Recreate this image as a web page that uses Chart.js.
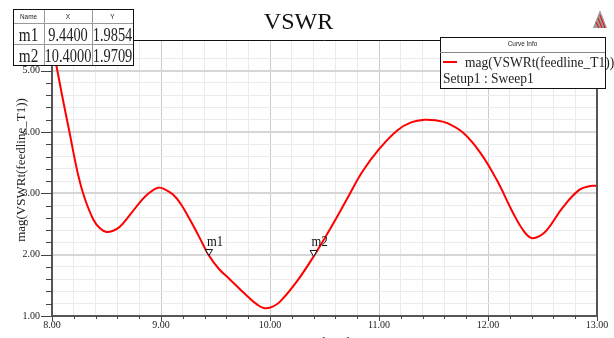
<!DOCTYPE html>
<html>
<head>
<meta charset="utf-8">
<script src="https://cdn.jsdelivr.net/npm/chart.js@4.4.1/dist/chart.umd.min.js"></script>
<style>
  body { margin: 0; background: #fff; }
  canvas { display: block; }
</style>
</head>
<body>
<canvas id="vswr-chart" width="614" height="338"></canvas>
<script>
// data
const freqGHz = [8.00, 8.03, 8.09, 8.16, 8.24, 8.30, 8.38, 8.44, 8.50, 8.56, 8.62, 8.72, 8.81, 8.88, 8.97, 9.03, 9.11, 9.18, 9.26, 9.35, 9.44, 9.53, 9.63, 9.72, 9.80, 9.88, 9.95, 10.02, 10.09, 10.245, 10.40, 10.60, 10.71, 10.85, 11.01, 11.17, 11.30, 11.42, 11.52, 11.62, 11.77, 11.93, 12.08, 12.23, 12.33, 12.40, 12.47, 12.54, 12.69, 12.84, 12.94, 13.00];
const vswr = [5.45, 5.18, 4.62, 4.00, 3.30, 2.92, 2.57, 2.43, 2.37, 2.39, 2.45, 2.66, 2.86, 2.99, 3.09, 3.07, 2.98, 2.83, 2.59, 2.29, 1.985, 1.77, 1.60, 1.445, 1.31, 1.19, 1.126, 1.15, 1.23, 1.56, 1.971, 2.57, 2.92, 3.36, 3.74, 4.03, 4.16, 4.20, 4.19, 4.15, 3.99, 3.66, 3.22, 2.68, 2.38, 2.27, 2.30, 2.40, 2.78, 3.06, 3.12, 3.12];

const markerNames = ["m1", "m2"];
const markerX = [9.4400, 10.4000];
const markerY = [1.9854, 1.9709];

const xMin = 8, xMax = 13;
const yMin = 1, yMax = 5.5;

function isMajor(v) {
    return Math.abs(v - Math.round(v)) < 1e-6;
}

// text squeezed sideways, like the reference font
function narrowText(ctx, text, x, y, sx, align) {
    ctx.save();
    ctx.translate(x, y);
    ctx.scale(sx, 1);
    ctx.textAlign = align;
    ctx.fillText(text, 0, 0);
    ctx.restore();
}

// extras: tick marks, frame, marker table, curve info, axis titles
const hfssDecor = {
    id: "hfssDecor",
    afterDatasetsDraw(chart) {
        const ctx = chart.ctx;
        const xs = chart.scales.x;
        const ys = chart.scales.y;
        const a = chart.chartArea;

        ctx.save();
        // frame top + right
        ctx.strokeStyle = "#111";
        ctx.lineWidth = 1;
        ctx.beginPath();
        ctx.moveTo(a.left, a.top + 0.5);
        ctx.lineTo(a.right, a.top + 0.5);
        ctx.stroke();
        ctx.strokeStyle = "#555";
        ctx.lineWidth = 2;
        ctx.beginPath();
        ctx.moveTo(a.right, a.top);
        ctx.lineTo(a.right, a.bottom);
        ctx.stroke();

        // tick marks
        ctx.strokeStyle = "#444";
        ctx.lineWidth = 1;
        ys.ticks.forEach((t) => {
            if (t.value > 5.01) return;
            const py = Math.round(ys.getPixelForValue(t.value)) + 0.5;
            const len = isMajor(t.value) ? 11 : 6;
            ctx.beginPath();
            ctx.moveTo(a.left - len, py);
            ctx.lineTo(a.left, py);
            ctx.stroke();
        });
        xs.ticks.forEach((t) => {
            const px = Math.round(xs.getPixelForValue(t.value)) + 0.5;
            const len = isMajor(t.value) ? 5 : 3;
            ctx.beginPath();
            ctx.moveTo(px, a.bottom);
            ctx.lineTo(px, a.bottom + len);
            ctx.stroke();
        });

        // markers
        ctx.strokeStyle = "#111";
        ctx.lineWidth = 1;
        markerNames.forEach((name, i) => {
            const px = xs.getPixelForValue(markerX[i]);
            const py = ys.getPixelForValue(markerY[i]);
            ctx.beginPath();
            ctx.moveTo(px - 3.5, py - 6);
            ctx.lineTo(px + 3.5, py - 6);
            ctx.lineTo(px, py);
            ctx.closePath();
            ctx.fillStyle = "#fff";
            ctx.fill();
            ctx.stroke();
            ctx.fillStyle = "#111";
            ctx.font = "14px 'Liberation Serif'";
            ctx.textBaseline = "alphabetic";
            narrowText(ctx, name, px - 2, py - 10, 0.9, "left");
        });

        // axis titles
        ctx.fillStyle = "#222";
        ctx.font = "13px 'Liberation Serif'";
        ctx.textBaseline = "middle";
        ctx.save();
        ctx.translate(22, 170);
        ctx.rotate(-Math.PI / 2);
        ctx.textAlign = "center";
        ctx.fillText("mag(VSWRt(feedline_T1))", 0, 0);
        ctx.restore();
        ctx.font = "12px 'Liberation Serif'";
        narrowText(ctx, "Freq [GHz]", (a.left + a.right) / 2, 343, 0.9, "center");

        // marker table
        const colX = [13, 44, 92, 133];
        const rowY = [9, 23, 44, 65];
        ctx.fillStyle = "#fff";
        ctx.fillRect(colX[0], rowY[0], colX[3] - colX[0], rowY[3] - rowY[0]);
        ctx.strokeStyle = "#999";
        ctx.lineWidth = 1;
        ctx.beginPath();
        for (let c = 1; c < 3; c++) {
            ctx.moveTo(colX[c] + 0.5, rowY[0]);
            ctx.lineTo(colX[c] + 0.5, rowY[3]);
        }
        for (let r = 1; r < 3; r++) {
            ctx.moveTo(colX[0], rowY[r] + 0.5);
            ctx.lineTo(colX[3], rowY[r] + 0.5);
        }
        ctx.stroke();
        ctx.strokeStyle = "#111";
        ctx.strokeRect(colX[0] + 0.5, rowY[0] + 0.5, colX[3] - colX[0], rowY[3] - rowY[0]);

        ctx.fillStyle = "#222";
        ctx.textBaseline = "middle";
        ctx.font = "8px 'Liberation Sans'";
        ["Name", "X", "Y"].forEach((h, c) => {
            narrowText(ctx, h, (colX[c] + colX[c + 1]) / 2, 16.5, 0.8, "center");
        });
        ctx.font = "18px 'Liberation Serif'";
        ctx.textBaseline = "alphabetic";
        markerNames.forEach((name, i) => {
            const base = i === 0 ? 41 : 62;
            narrowText(ctx, name, (colX[0] + colX[1]) / 2, base, 0.85, "center");
            narrowText(ctx, markerX[i].toFixed(4), (colX[1] + colX[2]) / 2, base, 0.8, "center");
            narrowText(ctx, markerY[i].toFixed(4), (colX[2] + colX[3]) / 2, base, 0.8, "center");
        });

        // curve info box
        const bx = 440, by = 37, bw = 165, bh = 51;
        ctx.fillStyle = "#fff";
        ctx.fillRect(bx, by, bw, bh);
        ctx.strokeStyle = "#111";
        ctx.strokeRect(bx + 0.5, by + 0.5, bw, bh);
        ctx.strokeStyle = "#888";
        ctx.beginPath();
        ctx.moveTo(bx, by + 15.5);
        ctx.lineTo(bx + bw, by + 15.5);
        ctx.stroke();
        ctx.fillStyle = "#222";
        ctx.textBaseline = "middle";
        ctx.font = "8px 'Liberation Sans'";
        narrowText(ctx, "Curve Info", bx + bw / 2, by + 7, 0.8, "center");
        ctx.strokeStyle = "#ff0000";
        ctx.lineWidth = 2;
        ctx.beginPath();
        ctx.moveTo(443, 62);
        ctx.lineTo(457, 62);
        ctx.stroke();
        ctx.font = "15px 'Liberation Serif'";
        narrowText(ctx, "mag(VSWRt(feedline_T1))", 465, 63, 0.9, "left");
        narrowText(ctx, "Setup1 : Sweep1", 443, 79, 0.9, "left");

        // small logo
        ctx.fillStyle = "#999";
        ctx.beginPath();
        ctx.moveTo(600, 10);
        ctx.lineTo(593, 28);
        ctx.lineTo(607, 28);
        ctx.closePath();
        ctx.fill();
        ctx.strokeStyle = "#e00";
        ctx.lineWidth = 1;
        ctx.beginPath();
        ctx.moveTo(598, 18); ctx.lineTo(602, 28);
        ctx.moveTo(596, 22); ctx.lineTo(599, 28);
        ctx.moveTo(600, 15); ctx.lineTo(605, 28);
        ctx.stroke();
        ctx.restore();
    },
};

const dataVswr = {
    datasets: [
        {
            label: "mag(VSWRt(feedline_T1))",
            data: freqGHz.map((f, i) => ({ x: f, y: vswr[i] })),
            borderColor: "#ff0000",
            borderWidth: 2,
            pointRadius: 0,
            fill: false,
            tension: 0.4,
        },
    ],
};

const configVswr = {
    type: "line",
    data: dataVswr,
    plugins: [hfssDecor],
    options: {
        responsive: false,
        animation: false,
        layout: {
            padding: { left: 0, right: 17, top: 0, bottom: 0 },
        },
        plugins: {
            legend: { display: false },
            tooltip: { enabled: false },
            title: {
                display: true,
                text: "VSWR",
                color: "#111",
                font: { family: "'Liberation Serif'", size: 24, weight: "normal" },
                padding: { top: 8, bottom: 3.2 },
            },
        },
        scales: {
            x: {
                type: "linear",
                min: xMin,
                max: xMax,
                afterFit: (scale) => { scale.height = 22; },
                border: { display: true, color: "#555", width: 2 },
                grid: {
                    drawTicks: false,
                    color: (c) => (isMajor(c.tick.value) ? "#cccccc" : "#ebebeb"),
                    lineWidth: 1,
                },
                ticks: {
                    stepSize: 0.2,
                    autoSkip: false,
                    maxRotation: 0,
                    padding: 3,
                    color: "#222",
                    font: { family: "'Liberation Serif'", size: 10 },
                    callback: function (value) {
                        return isMajor(value) ? value.toFixed(2) : "";
                    },
                },
            },
            y: {
                type: "linear",
                min: yMin,
                max: yMax,
                afterFit: (scale) => { scale.width = 52; },
                border: { display: true, color: "#555", width: 2 },
                grid: {
                    drawTicks: false,
                    color: (c) => (isMajor(c.tick.value) ? "#d6d6d6" : "#ebebeb"),
                    lineWidth: (c) => (isMajor(c.tick.value) ? 2 : 1),
                },
                ticks: {
                    stepSize: 0.2,
                    autoSkip: false,
                    padding: 12,
                    color: "#222",
                    font: { family: "'Liberation Serif'", size: 10 },
                    callback: function (value) {
                        return isMajor(value) && value <= 5 ? value.toFixed(2) : "";
                    },
                },
            },
        },
    },
};

// render
const ctxVswr = document.getElementById("vswr-chart");
new Chart(ctxVswr, configVswr);
</script>
</body>
</html>
